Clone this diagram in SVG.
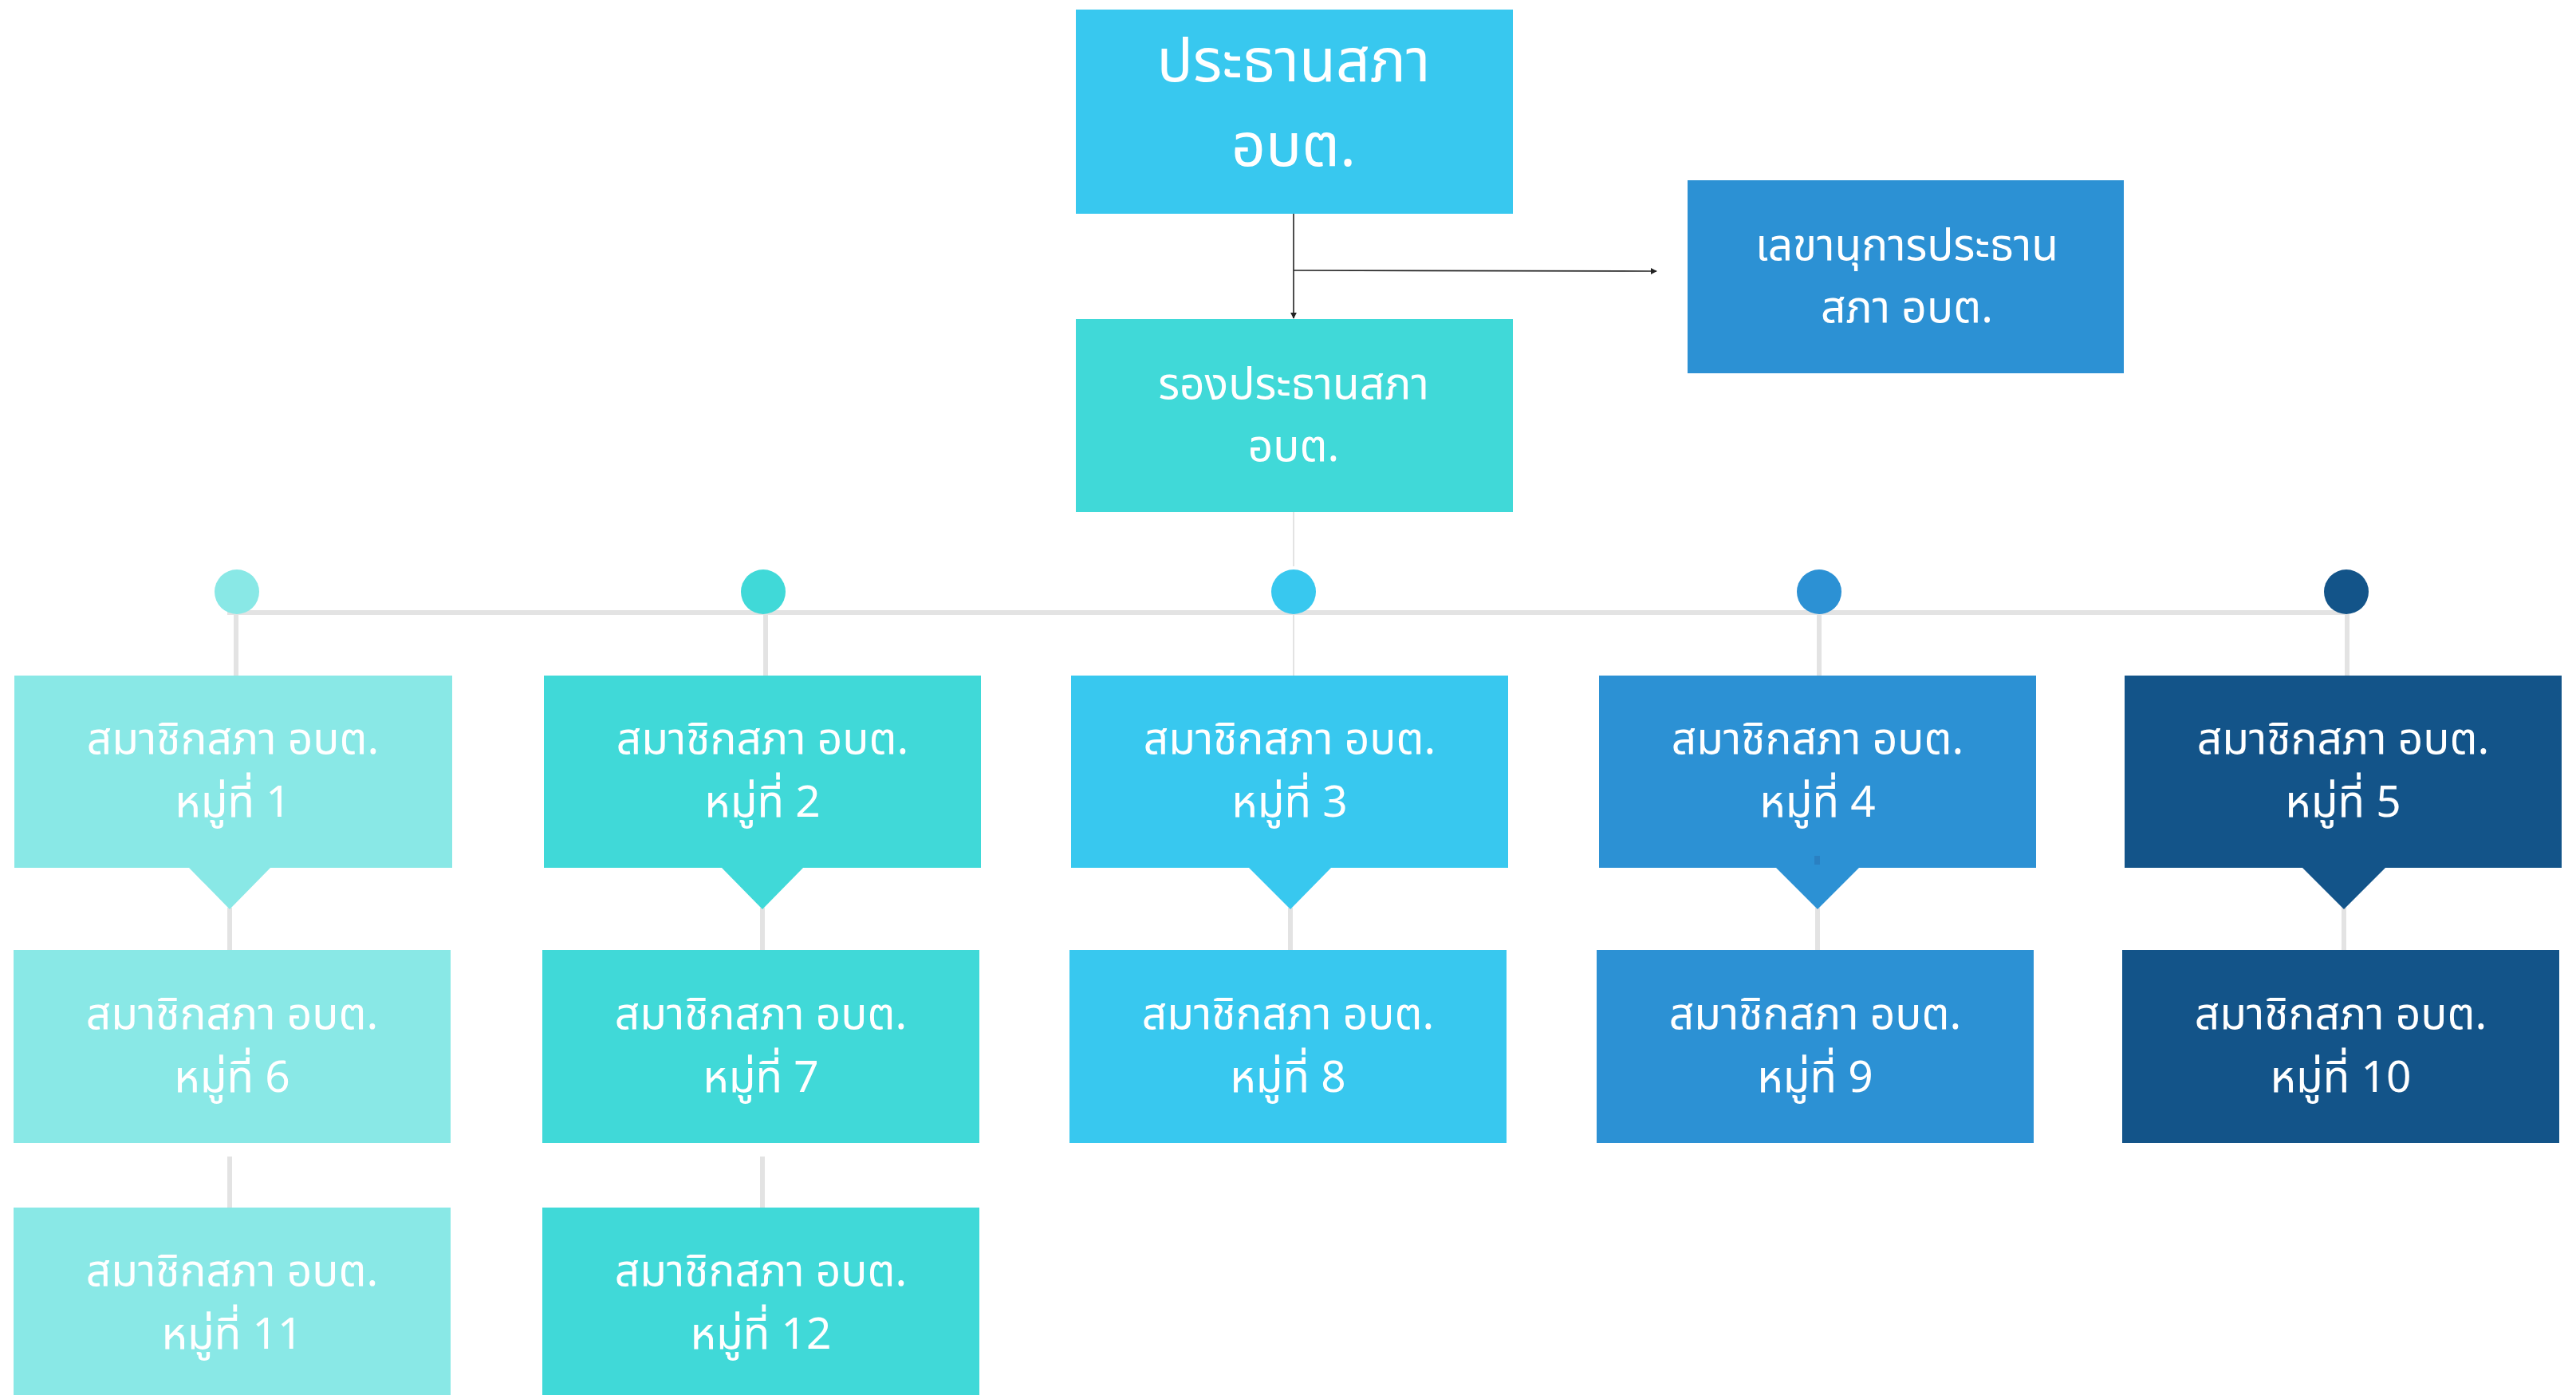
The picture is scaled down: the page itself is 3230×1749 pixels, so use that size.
<svg xmlns="http://www.w3.org/2000/svg" width="3230" height="1749" viewBox="0 0 3230 1749">
<defs>
<style>
.t{font-family:"Noto Sans Thai","Noto Sans",sans-serif;fill:#ffffff;text-anchor:middle}
.big{font-size:75px}
.mid{font-size:55px}
.c1{fill:#89e8e6}
.c2{fill:#40d9d8}
.c3{fill:#38c8ef}
.c4{fill:#2c91d4}
.c5{fill:#135489}
.g{stroke:#e3e3e3;stroke-width:6;fill:none}
.gt{stroke:#e3e3e3;stroke-width:2;fill:none}
.ar{stroke:#222222;stroke-width:1.6;fill:none}
</style>
<marker id="ah" viewBox="0 0 10 10" refX="9" refY="5" markerWidth="8" markerHeight="8" markerUnits="userSpaceOnUse" orient="auto">
<path d="M0,0 L10,5 L0,10 z" fill="#222222"/>
</marker>
</defs>
<rect width="3230" height="1749" fill="#ffffff"/>
<g id="connectors">
<line class="ar" x1="1622" y1="268" x2="1622" y2="399" marker-end="url(#ah)"/>
<line class="ar" x1="1622" y1="339" x2="2077" y2="340" marker-end="url(#ah)"/>
<line class="gt" x1="1622" y1="642" x2="1622" y2="710"/>
<line class="g" x1="285" y1="768" x2="2940" y2="768"/>
<line class="g" x1="296" y1="770" x2="296" y2="847"/>
<line class="g" x1="960" y1="770" x2="960" y2="847"/>
<line class="gt" x1="1622" y1="770" x2="1622" y2="847"/>
<line class="g" x1="2281" y1="770" x2="2281" y2="847"/>
<line class="g" x1="2943" y1="770" x2="2943" y2="847"/>
<line class="g" x1="288" y1="1138" x2="288" y2="1191"/>
<line class="g" x1="956" y1="1138" x2="956" y2="1191"/>
<line class="g" x1="1618" y1="1138" x2="1618" y2="1191"/>
<line class="g" x1="2279" y1="1138" x2="2279" y2="1191"/>
<line class="g" x1="2939" y1="1138" x2="2939" y2="1191"/>
<line class="g" x1="288" y1="1450" x2="288" y2="1514"/>
<line class="g" x1="956" y1="1450" x2="956" y2="1514"/>
</g>
<g id="dots">
<circle class="c1" cx="297" cy="742" r="28"/>
<circle class="c2" cx="957" cy="742" r="28"/>
<circle class="c3" cx="1622" cy="742" r="28"/>
<circle class="c4" cx="2281" cy="742" r="28"/>
<circle class="c5" cx="2942" cy="742" r="28"/>
</g>
<g id="president">
<rect class="c3" x="1349" y="12" width="548" height="256"/>
<text class="t big" x="1622" y="102">ประธานสภา</text>
<text class="t big" x="1622" y="208">อบต.</text>
</g>
<g id="secretary">
<rect class="c4" x="2116" y="226" width="547" height="242"/>
<text class="t mid" x="2391" y="326">เลขานุการประธาน</text>
<text class="t mid" x="2391" y="404">สภา อบต.</text>
</g>
<g id="vice">
<rect class="c2" x="1349" y="400" width="548" height="242"/>
<text class="t mid" x="1622" y="500">รองประธานสภา</text>
<text class="t mid" x="1622" y="578">อบต.</text>
</g>
<g id="m1">
<rect class="c1" x="18" y="847" width="549" height="241"/>
<path class="c1" d="M236,1087 L340,1087 L288,1140 z"/>
<text class="t mid" x="292" y="945">สมาชิกสภา อบต.</text>
<text class="t mid" x="292" y="1024">หมู่ที่ 1</text>
</g>
<g id="m2">
<rect class="c2" x="682" y="847" width="548" height="241"/>
<path class="c2" d="M904,1087 L1008,1087 L956,1140 z"/>
<text class="t mid" x="956" y="945">สมาชิกสภา อบต.</text>
<text class="t mid" x="956" y="1024">หมู่ที่ 2</text>
</g>
<g id="m3">
<rect class="c3" x="1343" y="847" width="548" height="241"/>
<path class="c3" d="M1565,1087 L1670,1087 L1618,1140 z"/>
<text class="t mid" x="1617" y="945">สมาชิกสภา อบต.</text>
<text class="t mid" x="1617" y="1024">หมู่ที่ 3</text>
</g>
<g id="m4">
<rect class="c4" x="2005" y="847" width="548" height="241"/>
<path class="c4" d="M2226,1087 L2332,1087 L2279,1140 z"/>
<rect x="2275" y="1073" width="7" height="11" fill="#2a80c2"/>
<text class="t mid" x="2279" y="945">สมาชิกสภา อบต.</text>
<text class="t mid" x="2279" y="1024">หมู่ที่ 4</text>
</g>
<g id="m5">
<rect class="c5" x="2664" y="847" width="548" height="241"/>
<path class="c5" d="M2886,1087 L2992,1087 L2939,1140 z"/>
<text class="t mid" x="2938" y="945">สมาชิกสภา อบต.</text>
<text class="t mid" x="2938" y="1024">หมู่ที่ 5</text>
</g>
<g id="m6">
<rect class="c1" x="17" y="1191" width="548" height="242"/>
<text class="t mid" x="291" y="1290">สมาชิกสภา อบต.</text>
<text class="t mid" x="291" y="1369">หมู่ที่ 6</text>
</g>
<g id="m7">
<rect class="c2" x="680" y="1191" width="548" height="242"/>
<text class="t mid" x="954" y="1290">สมาชิกสภา อบต.</text>
<text class="t mid" x="954" y="1369">หมู่ที่ 7</text>
</g>
<g id="m8">
<rect class="c3" x="1341" y="1191" width="548" height="242"/>
<text class="t mid" x="1615" y="1290">สมาชิกสภา อบต.</text>
<text class="t mid" x="1615" y="1369">หมู่ที่ 8</text>
</g>
<g id="m9">
<rect class="c4" x="2002" y="1191" width="548" height="242"/>
<text class="t mid" x="2276" y="1290">สมาชิกสภา อบต.</text>
<text class="t mid" x="2276" y="1369">หมู่ที่ 9</text>
</g>
<g id="m10">
<rect class="c5" x="2661" y="1191" width="548" height="242"/>
<text class="t mid" x="2935" y="1290">สมาชิกสภา อบต.</text>
<text class="t mid" x="2935" y="1369">หมู่ที่ 10</text>
</g>
<g id="m11">
<rect class="c1" x="17" y="1514" width="548" height="250"/>
<text class="t mid" x="291" y="1612">สมาชิกสภา อบต.</text>
<text class="t mid" x="291" y="1691">หมู่ที่ 11</text>
</g>
<g id="m12">
<rect class="c2" x="680" y="1514" width="548" height="250"/>
<text class="t mid" x="954" y="1612">สมาชิกสภา อบต.</text>
<text class="t mid" x="954" y="1691">หมู่ที่ 12</text>
</g>
</svg>
